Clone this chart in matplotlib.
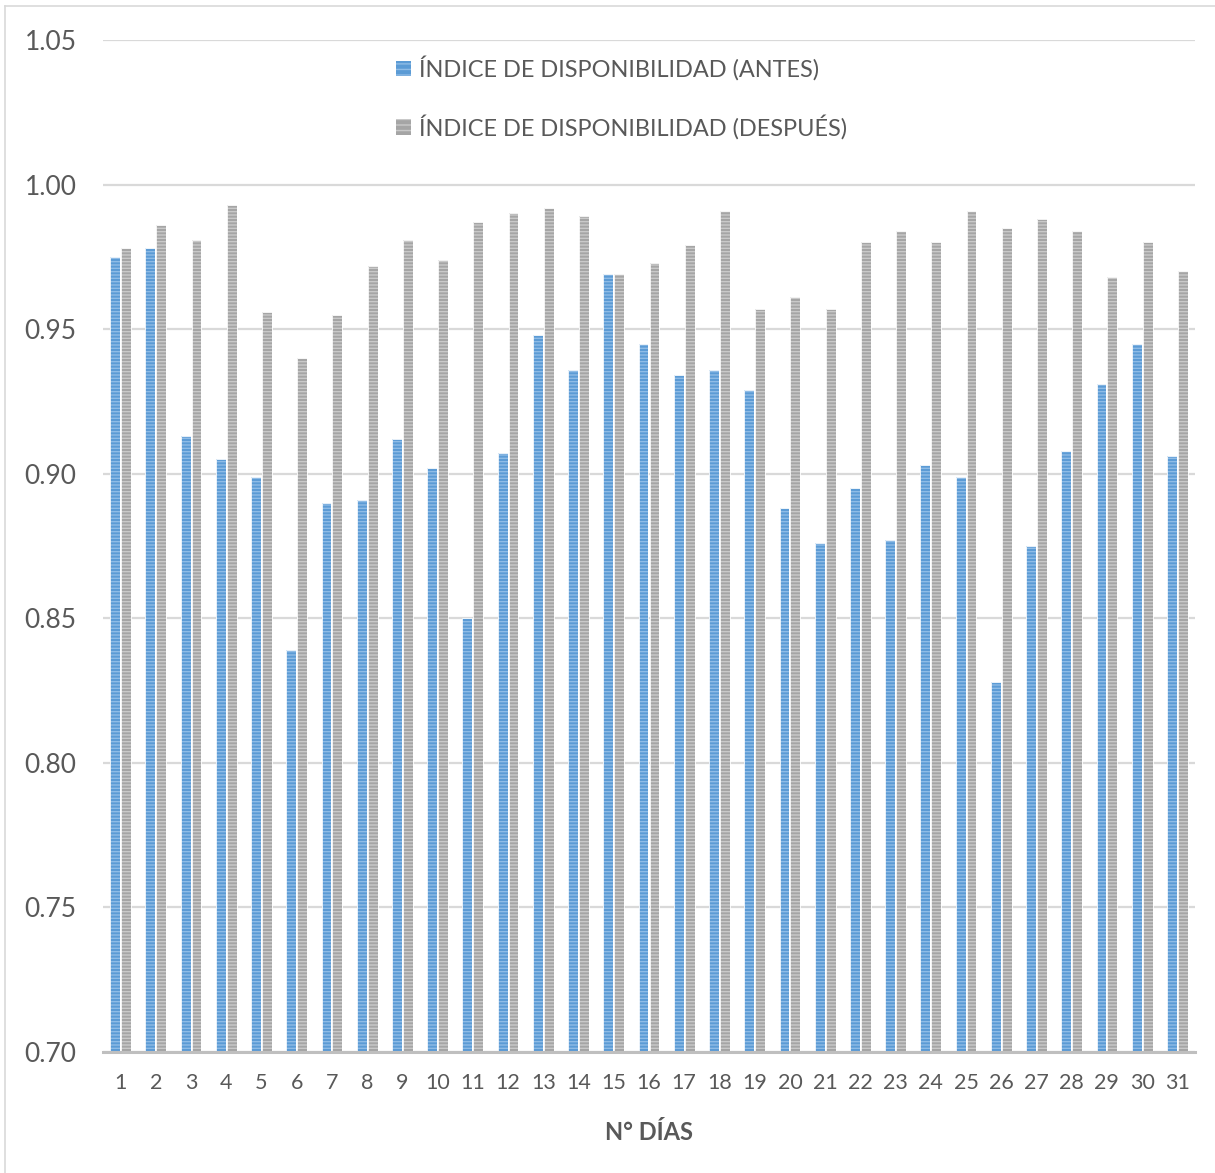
import matplotlib
matplotlib.use("Agg")
import matplotlib.pyplot as plt
import numpy as np
from matplotlib.patches import Patch

plt.rcParams['font.family'] = ['Lato', 'DejaVu Sans']
plt.rcParams['hatch.linewidth'] = 1.0

dias = list(range(1, 32))
antes = [0.975, 0.978, 0.913, 0.905, 0.899, 0.839, 0.890, 0.891, 0.912, 0.902,
         0.850, 0.907, 0.948, 0.936, 0.969, 0.945, 0.934, 0.936, 0.929, 0.888,
         0.876, 0.895, 0.877, 0.903, 0.899, 0.828, 0.875, 0.908, 0.931, 0.945,
         0.906]
despues = [0.978, 0.986, 0.981, 0.993, 0.956, 0.940, 0.955, 0.972, 0.981, 0.974,
           0.987, 0.990, 0.992, 0.989, 0.969, 0.973, 0.979, 0.991, 0.957, 0.961,
           0.957, 0.980, 0.984, 0.980, 0.991, 0.985, 0.988, 0.984, 0.968, 0.980,
           0.970]
yticks = [0.70, 0.75, 0.80, 0.85, 0.90, 0.95, 1.00, 1.05]
serie_antes = "ÍNDICE DE DISPONIBILIDAD (ANTES)"
serie_despues = "ÍNDICE DE DISPONIBILIDAD (DESPUÉS)"
xlabel = "N° DÍAS"

TXT = "#595959"
BLUE, BLUE_L = "#5B9BD5", "#8FBCE6"
GRAY, GRAY_L = "#A5A5A5", "#C9C9C9"

fig = plt.figure(figsize=(12.15, 11.73), dpi=100)
ax = fig.add_axes([103 / 1215, 1 - 1052 / 1173, (1195 - 103) / 1215, (1052 - 40) / 1173])

x = np.arange(len(dias))
w = 0.28
off = 0.155
base = 0.70
h_a = np.array(antes) - base
h_d = np.array(despues) - base

def striped(xpos, heights, fc, lc):
    ax.bar(xpos, heights, w, bottom=base, color=fc, edgecolor=lc, linewidth=0,
           hatch="-" * 5, zorder=3)
    ax.bar(xpos, heights, w, bottom=base, fill=False, edgecolor="white",
           linewidth=0.6, zorder=4)

striped(x - off, h_a, BLUE, BLUE_L)
striped(x + off, h_d, GRAY, GRAY_L)

ax.set_ylim(0.70, 1.05)
ax.set_xlim(-0.5, len(dias) - 0.5)
ax.set_yticks(yticks)
ax.set_yticklabels([f"{v:.2f}" for v in yticks])
ax.set_xticks(x)
ax.set_xticklabels([str(d) for d in dias])
ax.tick_params(axis='y', length=0, labelsize=19, labelcolor=TXT, pad=19)
ax.tick_params(axis='x', length=0, labelsize=15.5, labelcolor=TXT, pad=15)
ax.grid(axis='y', color="#D9D9D9", linewidth=1.6, zorder=0)
ax.set_axisbelow(True)
for s in ("top", "right", "left"):
    ax.spines[s].set_visible(False)
ax.spines["bottom"].set_color("#BFBFBF")
ax.spines["bottom"].set_linewidth(2.2)
ax.spines["bottom"].set_zorder(5)

ax.set_xlabel(xlabel, fontsize=17, fontweight="bold", color=TXT, labelpad=20)

handles = [Patch(facecolor=BLUE, edgecolor=BLUE_L, hatch="-" * 3, linewidth=0, label=serie_antes),
           Patch(facecolor=GRAY, edgecolor=GRAY_L, hatch="-" * 3, linewidth=0, label=serie_despues)]
leg = fig.legend(handles=handles, loc="upper left", bbox_to_anchor=(396 / 1215, 1 - 56 / 1173),
                 frameon=False, fontsize=16.9, handlelength=0.62, handleheight=0.62,
                 handletextpad=0.38, labelspacing=1.42, borderaxespad=0, borderpad=0)
for t in leg.get_texts():
    t.set_color(TXT)

# light frame around the chart area
fig.add_artist(plt.Line2D([4.5 / 1215, 4.5 / 1215], [0, 1 - 6 / 1173], transform=fig.transFigure,
                          color="#D9D9D9", linewidth=1.2))
fig.add_artist(plt.Line2D([4.5 / 1215, 1], [1 - 6 / 1173, 1 - 6 / 1173], transform=fig.transFigure,
                          color="#D9D9D9", linewidth=1.2))

fig.savefig("out.png", dpi=100)
